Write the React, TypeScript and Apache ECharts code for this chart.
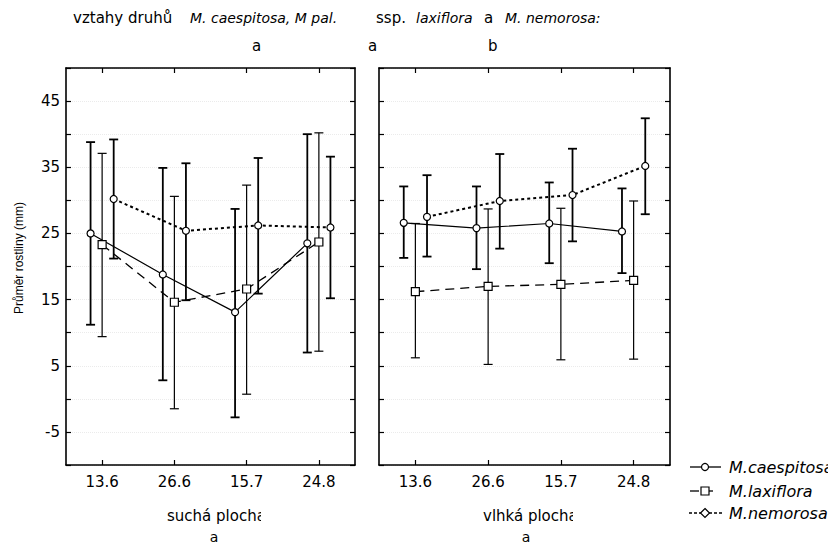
import React, { useEffect, useRef } from "react";
import * as echarts from "echarts";

const categories = ["13.6", "26.6", "15.7", "24.8"];
const yTickLabels = [-5, 5, 15, 25, 35, 45];

// suchá plocha (dry)
const dryCaesMean = [25.0, 18.8, 13.1, 23.5];
const dryCaesLow = [11.2, 2.8, -2.8, 7.0];
const dryCaesHigh = [38.8, 34.9, 28.7, 40.0];
const dryLaxMean = [23.3, 14.6, 16.6, 23.7];
const dryLaxLow = [9.4, -1.5, 0.7, 7.2];
const dryLaxHigh = [37.1, 30.6, 32.3, 40.2];
const dryNemMean = [30.2, 25.4, 26.2, 25.9];
const dryNemLow = [21.2, 14.9, 15.9, 15.2];
const dryNemHigh = [39.2, 35.6, 36.4, 36.6];

// vlhká plocha (wet)
const wetCaesMean = [26.6, 25.8, 26.5, 25.3];
const wetCaesLow = [21.3, 19.6, 20.5, 19.0];
const wetCaesHigh = [32.1, 32.1, 32.7, 31.8];
const wetLaxMean = [16.2, 17.0, 17.3, 17.9];
const wetLaxLow = [6.2, 5.2, 5.9, 6.0];
const wetLaxHigh = [26.5, 28.7, 28.8, 29.9];
const wetNemMean = [27.5, 29.9, 30.8, 35.2];
const wetNemLow = [21.5, 22.7, 23.8, 27.9];
const wetNemHigh = [33.8, 37.0, 37.8, 42.4];

const FONT = "DejaVu Sans";
const DODGE = 0.16;

export default function App() {
  const ref = useRef<HTMLDivElement>(null);

  useEffect(() => {
    document.body.style.margin = "0";
    const chart = echarts.init(ref.current!, null, { renderer: "svg" });

    const lineData = (means: number[], off: number) =>
      means.map((m, i) => [i + off, m]);
    const barData = (low: number[], high: number[], off: number) =>
      low.map((l, i) => [i + off, l, high[i]]);

    const errorSeries = (
      data: number[][],
      xi: number,
      yi: number,
      lw: number
    ) => ({
      type: "custom",
      xAxisIndex: xi,
      yAxisIndex: yi,
      data,
      encode: { x: 0, y: [1, 2] },
      z: 3,
      silent: true,
      renderItem: (params: any, api: any) => {
        const x = api.value(0);
        const p1 = api.coord([x, api.value(1)]);
        const p2 = api.coord([x, api.value(2)]);
        const h = 4.5;
        const st = { stroke: "#000", lineWidth: lw };
        return {
          type: "group",
          children: [
            { type: "line", shape: { x1: p1[0], y1: p1[1], x2: p2[0], y2: p2[1] }, style: st },
            { type: "line", shape: { x1: p1[0] - h, y1: p1[1], x2: p1[0] + h, y2: p1[1] }, style: st },
            { type: "line", shape: { x1: p2[0] - h, y1: p2[1], x2: p2[0] + h, y2: p2[1] }, style: st },
          ],
        };
      },
    });

    const lineSeries = (
      name: string,
      data: number[][],
      xi: number,
      yi: number,
      symbol: string,
      size: number,
      lineType: any,
      lw: number
    ) => ({
      name,
      type: "line",
      xAxisIndex: xi,
      yAxisIndex: yi,
      data,
      symbol,
      symbolSize: size,
      showAllSymbol: true,
      z: 5,
      lineStyle: { color: "#000", width: lw, type: lineType },
      itemStyle: { color: "#fff", borderColor: "#000", borderWidth: 1.2 },
    });

    const axisLine = { show: true, onZero: false, lineStyle: { color: "#000", width: 1.6 } };
    const catAxis = (gi: number, pos: string, labels: boolean) => ({
      type: "category",
      gridIndex: gi,
      position: pos,
      data: categories,
      boundaryGap: true,
      axisLine,
      axisTick: { show: true, inside: true, length: 5, alignWithLabel: true, lineStyle: { color: "#000", width: 1.2 } },
      axisLabel: {
        show: labels,
        color: "#000",
        fontFamily: FONT,
        fontSize: 15,
        margin: 9,
      },
      splitLine: { show: false },
    });
    const valX = (gi: number) => ({
      type: "value",
      gridIndex: gi,
      min: -0.5,
      max: 3.5,
      show: false,
      axisLine: { show: false, onZero: false },
      splitLine: { show: false },
    });
    const valY = (gi: number, pos: string, labels: boolean, grid: boolean) => ({
      type: "value",
      gridIndex: gi,
      position: pos,
      min: -10,
      max: 50,
      interval: 5,
      axisLine,
      axisTick: { show: true, inside: true, length: 5, lineStyle: { color: "#000", width: 1.2 } },
      axisLabel: {
        show: labels,
        color: "#000",
        fontFamily: FONT,
        fontSize: 15,
        margin: 6,
        formatter: (v: number) => (yTickLabels.includes(v) ? String(v) : ""),
      },
      splitLine: { show: grid, lineStyle: { color: "#ebebeb", type: "dotted", width: 1 } },
    });

    const text = (
      x: number,
      y: number,
      t: string,
      opts: any = {}
    ) => ({
      type: "text",
      x,
      y,
      rotation: opts.rotation || 0,
      style: {
        text: t,
        fill: "#000",
        font: `${opts.italic ? "italic " : ""}${opts.size || 14}px "${opts.family || FONT}"`,
        textAlign: opts.align || "left",
        textVerticalAlign: "middle",
      },
      z: 10,
    });

    const stroke = { stroke: "#000", lineWidth: 1.3 };
    const legendRows = [467, 491, 513];

    chart.setOption({
      animation: false,
      backgroundColor: "#fff",
      grid: [
        { left: 66, top: 68, width: 289, height: 397, show: false },
        { left: 379, top: 68, width: 291, height: 397, show: false },
      ],
      xAxis: [
        catAxis(0, "bottom", true),
        catAxis(0, "top", false),
        valX(0),
        catAxis(1, "bottom", true),
        catAxis(1, "top", false),
        valX(1),
      ],
      yAxis: [
        valY(0, "left", true, true),
        valY(0, "right", false, false),
        valY(1, "left", false, true),
        valY(1, "right", false, false),
      ],
      series: [
        errorSeries(barData(dryCaesLow, dryCaesHigh, -DODGE), 2, 0, 1.8),
        errorSeries(barData(dryLaxLow, dryLaxHigh, 0), 2, 0, 1.2),
        errorSeries(barData(dryNemLow, dryNemHigh, DODGE), 2, 0, 1.8),
        lineSeries("M.caespitosa", lineData(dryCaesMean, -DODGE), 2, 0, "circle", 7, "solid", 1.2),
        lineSeries("M.laxiflora", lineData(dryLaxMean, 0), 2, 0, "rect", 8, [9, 6], 1.3),
        lineSeries("M.nemorosa", lineData(dryNemMean, DODGE), 2, 0, "circle", 7, [3, 3], 2),
        errorSeries(barData(wetCaesLow, wetCaesHigh, -DODGE), 5, 2, 1.8),
        errorSeries(barData(wetLaxLow, wetLaxHigh, 0), 5, 2, 1.2),
        errorSeries(barData(wetNemLow, wetNemHigh, DODGE), 5, 2, 1.8),
        lineSeries("M.caespitosa", lineData(wetCaesMean, -DODGE), 5, 2, "circle", 7, "solid", 1.2),
        lineSeries("M.laxiflora", lineData(wetLaxMean, 0), 5, 2, "rect", 8, [9, 6], 1.3),
        lineSeries("M.nemorosa", lineData(wetNemMean, DODGE), 5, 2, "circle", 7, [3, 3], 2),
      ],
      graphic: [
        // title
        text(73, 18, "vztahy druhů", { size: 15 }),
        text(190, 18, "M. caespitosa, M pal.", { italic: true }),
        text(376, 18, "ssp.", { size: 15 }),
        text(416, 18, "laxiflora", { italic: true }),
        text(484, 18, "a", { size: 15 }),
        text(505, 18, "M. nemorosa:", { italic: true }),
        text(252, 46, "a", { size: 15 }),
        text(368, 46, "a", { size: 15 }),
        text(488, 46, "b", { size: 15 }),
        // y axis name
        text(19, 258, "Průměr rostliny (mm)", { rotation: Math.PI / 2, align: "center", size: 12, family: "Liberation Sans" }),
        // x axis names (last letter cut off, as in the scan)
        text(167, 516, "suchá plocha", { size: 15 }),
        text(483, 516, "vlhká plocha", { size: 15 }),
        { type: "rect", shape: { x: 261, y: 505, width: 14, height: 20 }, style: { fill: "#fff" }, z: 12 },
        { type: "rect", shape: { x: 573, y: 505, width: 14, height: 20 }, style: { fill: "#fff" }, z: 12 },
        text(214, 537, "a", { align: "center", size: 14 }),
        text(526, 537, "a", { align: "center", size: 14 }),
        // legend
        { type: "line", shape: { x1: 690, y1: legendRows[0], x2: 721, y2: legendRows[0] }, style: stroke, z: 10 },
        { type: "circle", shape: { cx: 705, cy: legendRows[0], r: 3.5 }, style: { fill: "#fff", stroke: "#000", lineWidth: 1.2 }, z: 11 },
        text(729, legendRows[0], "M.caespitosa", { italic: true, size: 16 }),
        { type: "line", shape: { x1: 690, y1: legendRows[1], x2: 699, y2: legendRows[1] }, style: stroke, z: 10 },
        { type: "line", shape: { x1: 709, y1: legendRows[1], x2: 713, y2: legendRows[1] }, style: stroke, z: 10 },
        { type: "rect", shape: { x: 701, y: legendRows[1] - 4, width: 8, height: 8 }, style: { fill: "#fff", stroke: "#000", lineWidth: 1.2 }, z: 11 },
        text(729, legendRows[1], "M.laxiflora", { italic: true, size: 16 }),
        { type: "line", shape: { x1: 689, y1: legendRows[2], x2: 722, y2: legendRows[2] }, style: { stroke: "#000", lineWidth: 1.5, lineDash: [3, 2] }, z: 10 },
        { type: "polygon", shape: { points: [[705, legendRows[2] - 4.5], [709.5, legendRows[2]], [705, legendRows[2] + 4.5], [700.5, legendRows[2]]] }, style: { fill: "#fff", stroke: "#000", lineWidth: 1.2 }, z: 11 },
        text(729, legendRows[2], "M.nemorosa", { italic: true, size: 16 }),
      ],
    });

    return () => chart.dispose();
  }, []);

  return (
    <div
      ref={ref}
      style={{ position: "fixed", left: 0, top: 0, width: 828, height: 546, background: "#fff" }}
    />
  );
}
